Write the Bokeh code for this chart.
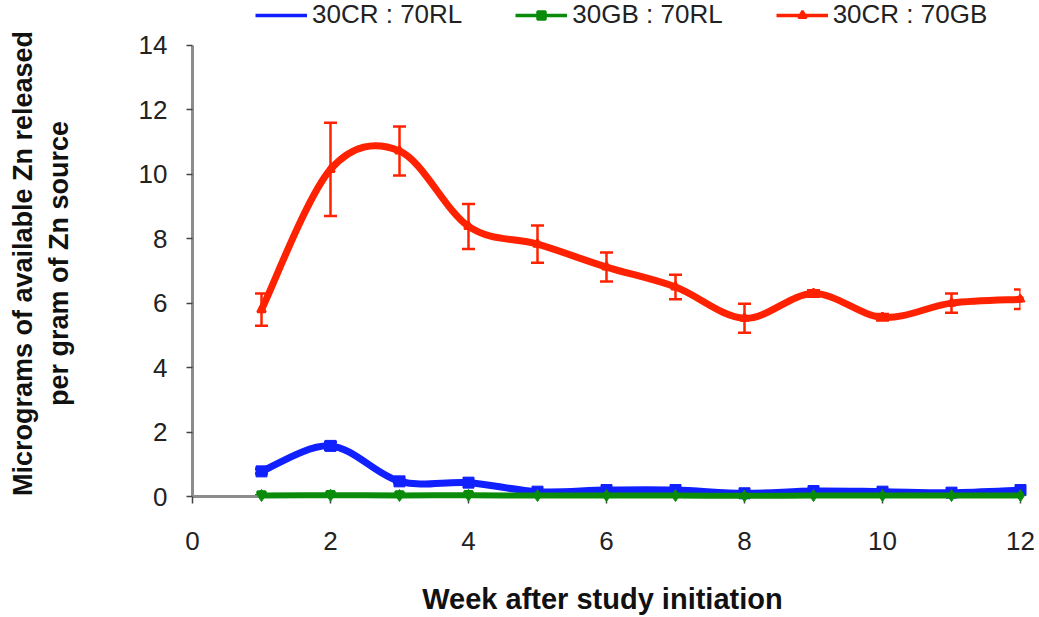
import math
from bokeh.plotting import figure
from bokeh.models import (ColumnDataSource, Whisker, TeeHead, Legend, LegendItem,
                          FixedTicker, Range1d)
from bokeh.embed import file_html
from bokeh.resources import INLINE

# ---------------- data ----------------
weeks = [1, 2, 3, 4, 5, 6, 7, 8, 9, 10, 11, 12]
cr_rl = [0.78, 1.57, 0.47, 0.43, 0.15, 0.20, 0.20, 0.10, 0.17, 0.15, 0.12, 0.20]
cr_rl_err = [0.07, 0.12, 0.05, 0.05, 0.03, 0.03, 0.03, 0.02, 0.03, 0.03, 0.02, 0.03]
gb_rl = [0.03, 0.04, 0.03, 0.04, 0.03, 0.03, 0.03, 0.02, 0.03, 0.03, 0.03, 0.03]
gb_rl_err = [0.01, 0.01, 0.01, 0.01, 0.01, 0.01, 0.01, 0.01, 0.01, 0.01, 0.01, 0.01]
cr_gb = [5.80, 10.15, 10.72, 8.38, 7.83, 7.12, 6.50, 5.53, 6.30, 5.56, 6.00, 6.12]
cr_gb_err = [0.50, 1.45, 0.76, 0.70, 0.58, 0.45, 0.38, 0.45, 0.10, 0.10, 0.30, 0.30]

series_names = ["30CR : 70RL", "30GB : 70RL", "30CR : 70GB"]
colors = ["#1020ff", "#0a8c0a", "#ff2200"]
x_ticks = [0, 2, 4, 6, 8, 10, 12]
y_ticks = [0, 2, 4, 6, 8, 10, 12, 14]
x_title = "Week after study initiation"
y_title_lines = ["Micrograms of available Zn released", "per gram of Zn source"]

FONT = "Liberation Sans"
NBSP = "\u00a0"
# trailing no-break spaces nudge the centred y title down (axis titles centre on the frame)
y_title = "\n".join(t + NBSP * 4 for t in y_title_lines)

# layout: frame spans full height above x-axis so the legend fits inside it;
# the y-axis itself is bounded to 0..14 (14 sits 45 px below the canvas top)
Y_MAX_AXIS = 14
FRAME_H = 498
Y_TOP = Y_MAX_AXIS * FRAME_H / (FRAME_H - 45)


def smooth_segments(xs, ys):
    """Catmull-Rom style bezier segments (like spreadsheet 'smoothed line')."""
    n = len(xs)
    d = dict(x0=[], y0=[], x1=[], y1=[], cx0=[], cy0=[], cx1=[], cy1=[])
    for i in range(n - 1):
        pm = i - 1 if i > 0 else i
        pp = i + 2 if i + 2 < n else i + 1
        d["x0"].append(xs[i]); d["y0"].append(ys[i])
        d["x1"].append(xs[i + 1]); d["y1"].append(ys[i + 1])
        d["cx0"].append(xs[i] + (xs[i + 1] - xs[pm]) / 6.0)
        d["cy0"].append(ys[i] + (ys[i + 1] - ys[pm]) / 6.0)
        d["cx1"].append(xs[i + 1] - (xs[pp] - xs[i]) / 6.0)
        d["cy1"].append(ys[i + 1] - (ys[pp] - ys[i]) / 6.0)
    return ColumnDataSource(d)


p = figure(width=1039, height=617, output_backend="svg", toolbar_location=None,
           x_range=Range1d(0, 12), y_range=Range1d(0, Y_TOP),
           min_border_left=192, min_border_right=19, min_border_top=0,
           min_border_bottom=617 - FRAME_H)
p.outline_line_color = None
p.xgrid.visible = False
p.ygrid.visible = False
p.background_fill_color = "white"
p.border_fill_color = "white"

for ax in (p.xaxis[0], p.yaxis[0]):
    ax.axis_line_color = "#8c8c8c"
    ax.axis_line_width = 3
    ax.major_tick_line_color = "#444444"
    ax.major_tick_line_width = 1.5
    ax.major_tick_in = 0
    ax.minor_tick_line_color = None
    ax.major_label_text_font = FONT
    ax.major_label_text_font_size = "26px"
    ax.major_label_text_color = "#222222"
    ax.axis_label_text_font = FONT
    ax.axis_label_text_font_style = "bold"
    ax.axis_label_text_color = "#111111"

p.xaxis.ticker = FixedTicker(ticks=x_ticks)
p.yaxis.ticker = FixedTicker(ticks=y_ticks)
p.yaxis.bounds = (0, Y_MAX_AXIS)
p.xaxis.major_tick_out = 7
p.yaxis.major_tick_out = 6
p.xaxis.major_label_standoff = 28
p.yaxis.major_label_standoff = 19

p.xaxis.axis_label = x_title + NBSP
p.xaxis.axis_label_text_font_size = "29px"
p.xaxis.axis_label_standoff = 30
p.yaxis.axis_label = y_title
p.yaxis.axis_label_text_font_size = "27px"
p.yaxis.axis_label_standoff = 62

all_vals = [cr_rl, gb_rl, cr_gb]
all_errs = [cr_rl_err, gb_rl_err, cr_gb_err]
widths = [7, 6, 7]
markers = ["square", "diamond", "triangle"]
msizes = [11, 12, 9]
leg_markers = ["dash", "square", "triangle"]
leg_angles = [math.pi / 2, 0, 0]

items = []
for name, vals, col, lmk, lang in zip(series_names, all_vals, colors,
                                      leg_markers, leg_angles):
    src = ColumnDataSource(dict(x=weeks, y=vals))
    bz = smooth_segments(weeks, vals)
    # thin proxy glyphs (hidden beneath the main marks) give the legend its look
    proxy_line = p.bezier(x0="x0", y0="y0", x1="x1", y1="y1", cx0="cx0",
                          cy0="cy0", cx1="cx1", cy1="cy1", source=bz,
                          line_color=col, line_width=3.5)
    proxy_mark = p.scatter("x", "y", source=src, marker=lmk, size=8,
                           angle=lang, line_color=col, fill_color=col,
                           line_width=2.5)
    items.append(LegendItem(label=name, renderers=[proxy_line, proxy_mark]))

for vals, errs, col, lw, mk, ms in zip(all_vals, all_errs, colors, widths,
                                       markers, msizes):
    src = ColumnDataSource(dict(
        x=weeks, y=vals,
        upper=[v + e for v, e in zip(vals, errs)],
        lower=[v - e for v, e in zip(vals, errs)]))
    bz = smooth_segments(weeks, vals)
    p.bezier(x0="x0", y0="y0", x1="x1", y1="y1", cx0="cx0", cy0="cy0",
             cx1="cx1", cy1="cy1", source=bz, line_color=col, line_width=lw,
             line_cap="round", level="annotation")
    p.scatter("x", "y", source=src, marker=mk, size=ms, color=col,
              level="annotation")
    w = Whisker(source=src, base="x", upper="upper", lower="lower",
                dimension="height", line_color=col, line_width=2.5,
                upper_head=TeeHead(size=13, line_color=col, line_width=2.5),
                lower_head=TeeHead(size=13, line_color=col, line_width=2.5))
    p.add_layout(w)

legend = Legend(items=items, orientation="horizontal", location=(63, FRAME_H - 32),
                glyph_width=52, glyph_height=20, label_standoff=5, spacing=53,
                padding=0, margin=0, border_line_alpha=0,
                background_fill_alpha=0, label_text_font=FONT,
                label_text_font_size="26px", label_text_color="#222222")
p.add_layout(legend)

open("out.html", "w").write(file_html(p, INLINE))
